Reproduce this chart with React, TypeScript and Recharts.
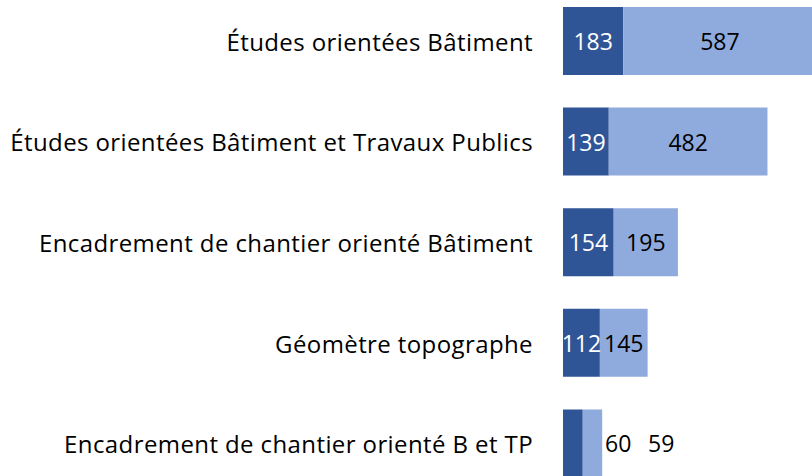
import React from "react";
import { BarChart, Bar, XAxis, YAxis, LabelList } from "recharts";

const categories = [
  "Études orientées Bâtiment",
  "Études orientées Bâtiment et Travaux Publics",
  "Encadrement de chantier orienté Bâtiment",
  "Géomètre topographe",
  "Encadrement de chantier orienté B et TP",
];
const darkValues = [183, 139, 154, 112, 60];
const lightValues = [587, 482, 195, 145, 59];

const data = categories.map((name, i) => ({ name, dark: darkValues[i], light: lightValues[i] }));

const FONT = "'Segoe UI', 'Open Sans', sans-serif";
const CAT_FS = 24;
const NUM_FS = 23;
const DARK = "#2F5597";
const LIGHT = "#8FAADC";

function makeLabel(isDark: boolean) {
  return (props: any) => {
    const { x, y, width, height, value, index } = props;
    let cx = x + width / 2;
    let color = isDark ? "#ffffff" : "#000000";
    if (width < 30) {
      color = "#000000";
      if (isDark) {
        const scale = width / value;
        cx = x + width + lightValues[index] * scale + 16;
      } else {
        cx = x + width + 59;
      }
    }
    return (
      <text
        x={cx}
        y={y + height / 2}
        textAnchor="middle"
        dominantBaseline="central"
        fill={color}
        fontSize={NUM_FS}
        fontFamily={FONT}
      >
        {value}
      </text>
    );
  };
}

const renderTick = (props: any) => {
  const { x, y, payload } = props;
  return (
    <text
      x={x}
      y={y}
      textAnchor="end"
      dominantBaseline="central"
      fill="#000000"
      fontSize={CAT_FS}
      letterSpacing={0.4}
      fontFamily={FONT}
    >
      {payload.value}
    </text>
  );
};

export default function App() {
  return (
    <div style={{ position: "absolute", top: 0, left: 0, width: 812, height: 476, overflow: "hidden", background: "#fff" }}>
      <div style={{ position: "absolute", top: -9, left: 0 }}>
        <BarChart
          width={830}
          height={503}
          data={data}
          layout="vertical"
          margin={{ top: 0, right: 3.6, left: 0, bottom: 0 }}
        >
          <XAxis type="number" domain={[0, 800]} hide />
          <YAxis
            type="category"
            dataKey="name"
            width={563}
            axisLine={false}
            tickLine={false}
            tickSize={0}
            tickMargin={30}
            tick={renderTick}
            interval={0}
          />
          <Bar dataKey="dark" stackId="s" fill={DARK} barSize={68} isAnimationActive={false}>
            <LabelList dataKey="dark" content={makeLabel(true)} />
          </Bar>
          <Bar dataKey="light" stackId="s" fill={LIGHT} barSize={68} isAnimationActive={false}>
            <LabelList dataKey="light" content={makeLabel(false)} />
          </Bar>
        </BarChart>
      </div>
    </div>
  );
}
